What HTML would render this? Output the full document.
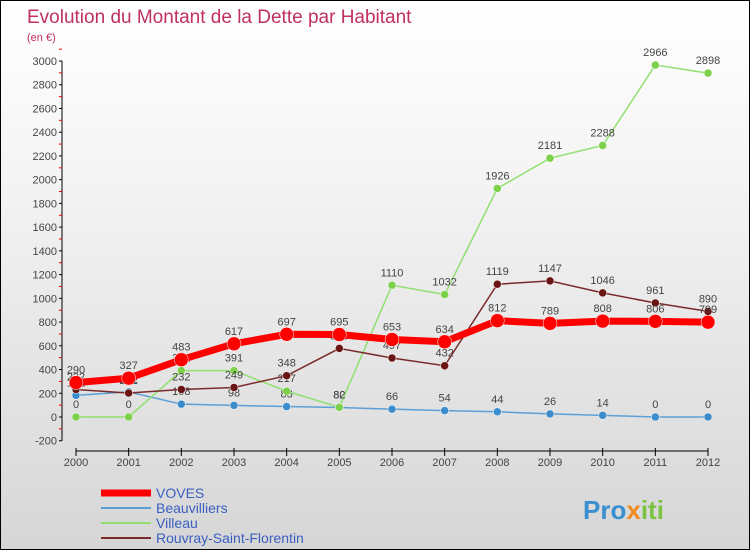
<!DOCTYPE html>
<html><head><meta charset="utf-8"><style>
body{margin:0}
#c{width:750px;height:550px;position:relative;overflow:hidden;box-sizing:border-box;border:1px solid #000;background:linear-gradient(#ffffff,#f5f5f5 30%,#d6d6d6);font-family:"Liberation Sans",sans-serif}
</style></head><body>
<div id="c">
<svg id="s" width="750" height="550" style="position:absolute;left:0;top:0">
<text x="26" y="22" font-size="19" fill="#c0305e">Evolution du Montant de la Dette par Habitant</text>
<text x="26" y="40" font-size="11" fill="#c0305e">(en €)</text>
<g id="axes"></g><g id="series"></g><g id="legend"></g>
<text x="582" y="518" font-size="26" font-weight="bold" fill="#3a8fd0">Pro<tspan fill="#f08a1c">x</tspan><tspan fill="#7cc242">iti</tspan></text>
</svg>
</div>
<script>
const years=[2000,2001,2002,2003,2004,2005,2006,2007,2008,2009,2010,2011,2012];
const voves=[290,327,483,617,697,695,653,634,812,789,808,806,799];
const beauvilliers=[182,212,108,98,88,80,66,54,44,26,14,0,0];
const villeau=[0,0,391,391,217,82,1110,1032,1926,2181,2288,2966,2898];
const rouvray=[232,202,232,249,348,578,497,432,1119,1147,1046,961,890];
const yTicks=[-200,0,200,400,600,800,1000,1200,1400,1600,1800,2000,2200,2400,2600,2800,3000];
const NS="http://www.w3.org/2000/svg";
const X=i=>75+i*(632/12), Y=v=>416-v*356/3000;
function mk(t,a,p){const e=document.createElementNS(NS,t);for(const k in a)e.setAttribute(k,a[k]);p.appendChild(e);return e;}
const ax=document.getElementById('axes');
const yl=mk('line',{x1:61,y1:Y(3000),x2:61,y2:Y(-200),stroke:'#000'},ax);


yTicks.forEach(v=>{
 mk('line',{x1:58,x2:61,y1:Y(v),y2:Y(v),stroke:'#000'},ax);
 mk('line',{x1:58,x2:61,y1:Y(v+100),y2:Y(v+100),stroke:'#e00'},ax);
 const t=mk('text',{x:56,y:Y(v)+4,'font-size':11,'text-anchor':'end',fill:'#444'},ax);t.textContent=v;
 
 
});
const xl=mk('line',{x1:75,y1:450,x2:707,y2:450,stroke:'#000'},ax);


years.forEach((y,i)=>{
 mk('line',{x1:X(i),x2:X(i),y1:447,y2:455,stroke:'#000'},ax);
 const t=mk('text',{x:X(i),y:465,'font-size':11,'text-anchor':'middle',fill:'#444'},ax);t.textContent=y;
 
 
});
const sg=document.getElementById('series');
function draw(name,data,col,w,r,dot){
 const g=mk('g',{},sg);
 
 
 const l=mk('polyline',{points:data.map((v,i)=>X(i)+','+Y(v)).join(' '),fill:'none',stroke:col,'stroke-width':w},g);
 
 
 data.forEach((v,i)=>{
  const c=mk('circle',{cx:X(i),cy:Y(v),r:r,fill:dot,stroke:'#fff','stroke-width':0.5},g);
  
  
  const t=mk('text',{x:X(i),y:Y(v)-9,'font-size':11,'text-anchor':'middle',fill:'#444'},g);t.textContent=v;
  
  
 });
}
draw('beauvilliers',beauvilliers,'#5b9fd6',1.5,4,'#3a8ccc');
draw('villeau',villeau,'#90e070',1.5,4,'#7cd04a');
draw('rouvray',rouvray,'#7a2a2a',1.5,4,'#6a1414');
draw('voves',voves,'#ff0000',7,7,'#ff0000');
const lg=document.getElementById('legend');
[['VOVES','#ff0000',7],['Beauvilliers','#5b9fd6',2],['Villeau','#90e070',2],['Rouvray-Saint-Florentin','#7a2a2a',2]].forEach((d,i)=>{
 const y=492+i*15;
 const g=mk('g',{},lg);
 
 
 mk('line',{x1:100,x2:150,y1:y,y2:y,stroke:d[1],'stroke-width':d[2]},g);
 const t=mk('text',{x:155,y:y+5,'font-size':14,fill:'#3a5fc0'},g);t.textContent=d[0];
});
</script>
</body></html>
